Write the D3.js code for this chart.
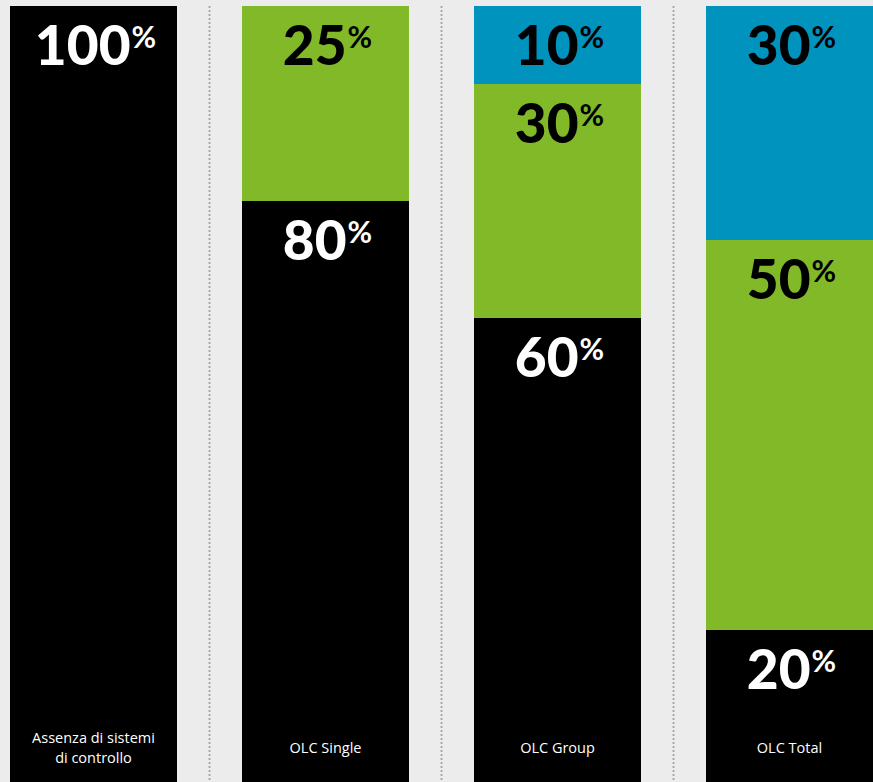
<!DOCTYPE html>
<html><head><meta charset="utf-8">
<script src="https://cdn.jsdelivr.net/npm/d3@7"></script>
<style>
html,body{margin:0;padding:0;background:#ececec;overflow:hidden;}
svg{display:block;}
</style></head>
<body>
<svg id="chart" width="873" height="782"></svg>
<script>
const categories = ["Assenza di sistemi\ndi controllo", "OLC Single", "OLC Group", "OLC Total"];
const blackValues = [100, 75, 60, 20];
const greenValues = [0, 25, 30, 50];
const blueValues = [0, 0, 10, 30];
const blackLabels = ["100", "80", "60", "20"];
const greenLabels = ["", "25", "30", "50"];
const blueLabels = ["", "", "10", "30"];

const W = 873, H = 782;
const svg = d3.select("#chart");
const colors = {black: "#000000", green: "#82b928", blue: "#0093be"};
const textColors = {black: "#ffffff", green: "#000000", blue: "#000000"};

const x = d3.scaleBand().domain(categories).range([10, 873]).paddingInner(65/232).paddingOuter(0);
const y = d3.scaleLinear().domain([0, 100]).range([786, 6]);

const rows = categories.map((c, i) => ({cat: c, black: blackValues[i], green: greenValues[i], blue: blueValues[i],
  labels: {black: blackLabels[i], green: greenLabels[i], blue: blueLabels[i]}}));
const keys = ["black", "green", "blue"];
const stack = d3.stack().keys(keys)(rows);

// dotted separators
categories.slice(1).forEach(c => {
  const xs = x(c) - x.step() * x.paddingInner() / 2;
  svg.append("line").attr("x1", xs).attr("x2", xs).attr("y1", 6).attr("y2", H)
    .attr("stroke", "#a8a8a8").attr("stroke-width", 2).attr("stroke-dasharray", "2,2");
});

const g = svg.append("g");
stack.forEach(layer => {
  const k = layer.key;
  layer.forEach(d => {
    if (d[1] - d[0] <= 0) return;
    g.append("rect").attr("x", x(d.data.cat)).attr("width", x.bandwidth())
      .attr("y", y(d[1])).attr("height", y(d[0]) - y(d[1])).attr("fill", colors[k]);
    const lab = d.data.labels[k];
    if (lab) {
      const t = g.append("text").attr("x", x(d.data.cat) + x.bandwidth()/2 + 2).attr("y", y(d[1]) + 59)
        .attr("text-anchor", "middle").attr("fill", textColors[k])
        .style("font-family", "Lato, sans-serif").style("font-weight", 900);
      t.append("tspan").style("font-size", "55px").text(lab);
      t.append("tspan").style("font-size", "30px").style("font-weight", 700).attr("dy", -17).attr("dx", 1).text("%");
    }
  });
});

// category labels
categories.forEach(c => {
  const lines = c.split("\n");
  const base = lines.length > 1 ? 743 : 753;
  lines.forEach((l, j) => {
    svg.append("text").attr("text-anchor", "middle").attr("fill", "#ffffff")
      .style("font-family", "'Open Sans', sans-serif").style("font-weight", 400).style("font-size", "14.5px")
      .attr("x", x(c) + x.bandwidth()/2).attr("y", base + j*20).text(l);
  });
});
</script>
</body></html>
